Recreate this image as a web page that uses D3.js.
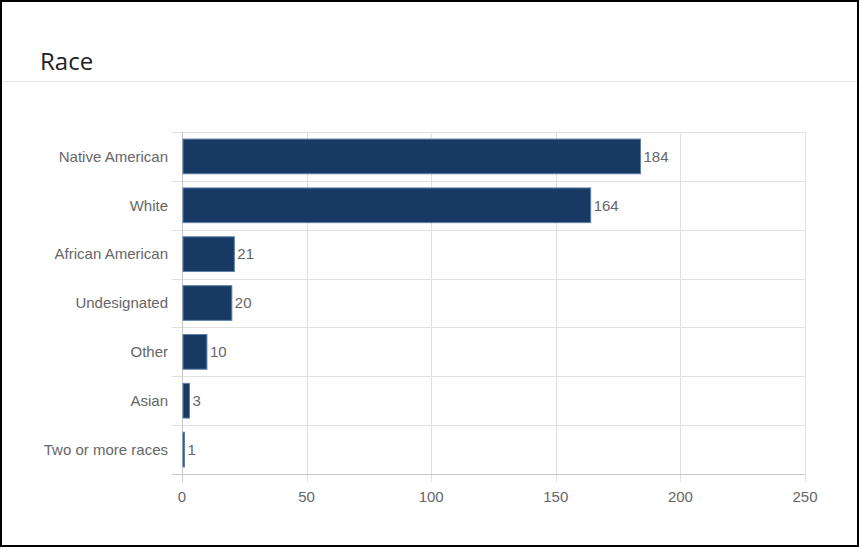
<!DOCTYPE html>
<html><head><meta charset="utf-8">
<script src="https://cdn.jsdelivr.net/npm/d3@7"></script>
<style>body{margin:0;background:#fff}svg{display:block}</style>
</head><body><svg id="c" width="860" height="548"></svg>
<script>
const categories = ["Native American","White","African American","Undesignated","Other","Asian","Two or more races"];
const values = [184,164,21,20,10,3,1];
const xTicks = [0,50,100,150,200,250];
const title = "Race";

const svg = d3.select("#c");
svg.append("rect").attr("x",1).attr("y",1).attr("width",857).attr("height",545)
  .attr("fill","#fff").attr("stroke","#000").attr("stroke-width",2);
svg.append("text").attr("x",40).attr("y",70).text(title)
  .attr("font-family","'Open Sans','Noto Sans',sans-serif").attr("font-size",24).attr("fill","#222");
svg.append("line").attr("x1",2).attr("x2",857).attr("y1",81.5).attr("y2",81.5)
  .attr("stroke","#e6e6e6").attr("stroke-width",1);

const L=182, R=805, T=132, B=474;
const x = d3.scaleLinear().domain([0,250]).range([L,R]);
const y = d3.scaleBand().domain(categories).range([T,B]).paddingInner(0.29).paddingOuter(0.145);
const step = y.step();
const g = svg.append("g");
g.selectAll(".vg").data(xTicks).join("line")
  .attr("x1",d=>Math.round(x(d))+0.5).attr("x2",d=>Math.round(x(d))+0.5)
  .attr("y1",T).attr("y2",B+8).attr("stroke","#e1e1e1");
const hb = d3.range(categories.length+1).map(i=>T+i*step);
g.selectAll(".hg").data(hb).join("line")
  .attr("x1",172).attr("x2",R).attr("y1",d=>Math.round(d)+0.5).attr("y2",d=>Math.round(d)+0.5)
  .attr("stroke","#e1e1e1");
g.append("line").attr("x1",L+0.5).attr("x2",L+0.5).attr("y1",T).attr("y2",B+8).attr("stroke","#c8c8c8");
g.append("line").attr("x1",172).attr("x2",R).attr("y1",Math.round(B)+0.5).attr("y2",Math.round(B)+0.5).attr("stroke","#c8c8c8");
g.selectAll(".bar").data(values).join("rect")
  .attr("x",x(0)+1).attr("y",(d,i)=>y(categories[i]))
  .attr("width",d=>Math.max(0,x(d)-x(0)-1)).attr("height",y.bandwidth())
  .attr("fill","#173a64").attr("stroke","#5d7ea6").attr("stroke-width",1);
const font="'Liberation Sans',Arial,sans-serif";
g.selectAll(".vl").data(values).join("text")
  .attr("x",d=>x(d)+3).attr("y",(d,i)=>y(categories[i])+y.bandwidth()/2)
  .attr("dy","0.35em").text(d=>d).attr("font-family",font).attr("font-size",15).attr("fill","#666");
g.selectAll(".cl").data(categories).join("text")
  .attr("x",168).attr("y",d=>y(d)+y.bandwidth()/2).attr("dy","0.35em").attr("text-anchor","end")
  .text(d=>d).attr("font-family",font).attr("font-size",15).attr("fill","#666");
g.selectAll(".xl").data(xTicks).join("text")
  .attr("x",d=>x(d)).attr("y",502).attr("text-anchor","middle")
  .text(d=>d).attr("font-family",font).attr("font-size",15).attr("fill","#666");
</script></body></html>
